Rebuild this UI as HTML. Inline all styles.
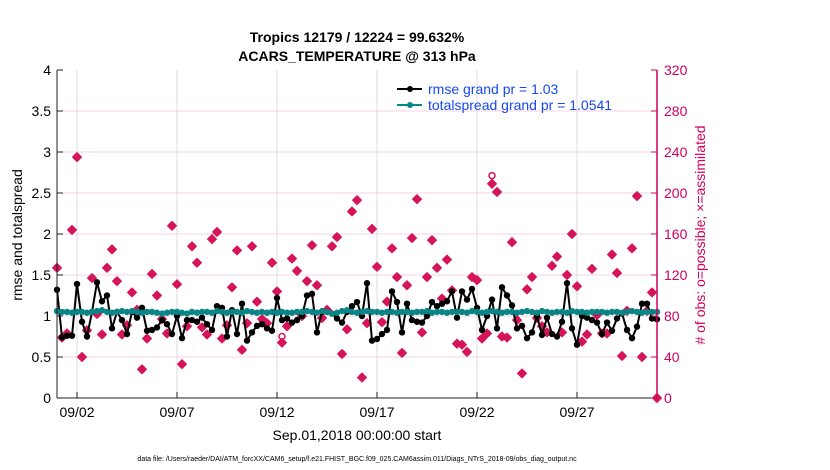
<!DOCTYPE html>
<html><head><meta charset="utf-8"><style>
body{margin:0;background:#fff;}
svg{display:block;font-family:"Liberation Sans",Arial,sans-serif;}
</style></head><body>
<svg id="chart" width="830" height="470" viewBox="0 0 830 470">
<g id="grid"></g>
<g id="marks"></g>
<g id="axes"></g>
<text x="357" y="42" text-anchor="middle" font-size="14" font-weight="bold">Tropics 12179 / 12224 = 99.632%</text>
<text x="357" y="61" text-anchor="middle" font-size="14" font-weight="bold">ACARS_TEMPERATURE @ 313 hPa</text>
<text x="22" y="235" text-anchor="middle" font-size="14" transform="rotate(-90 22 235)">rmse and totalspread</text>
<text x="705" y="235" text-anchor="middle" font-size="14" fill="#d1005a" transform="rotate(-90 705 235)"># of obs: o=possible; ×=assimilated</text>
<text x="357" y="440" text-anchor="middle" font-size="14">Sep.01,2018 00:00:00 start</text>
<text x="357" y="461" text-anchor="middle" font-size="7">data file: /Users/raeder/DAI/ATM_forcXX/CAM6_setup/f.e21.FHIST_BGC.f09_025.CAM6assim.011/Diags_NTrS_2018-09/obs_diag_output.nc</text>
<g>
<line x1="397" y1="89" x2="422" y2="89" stroke="#000" stroke-width="2"/><circle cx="410" cy="89" r="3" fill="#000"/>
<text x="428" y="94" font-size="14" fill="#1747ee">rmse grand pr = 1.03</text>
<line x1="397" y1="105" x2="422" y2="105" stroke="#0a8585" stroke-width="2"/><circle cx="410" cy="105" r="3" fill="#0a8585"/>
<text x="428" y="110" font-size="14" fill="#1747ee">totalspread grand pr = 1.0541</text>
</g>
</svg>
<script>
const rmse=[1.32,0.74,0.76,0.76,1.39,0.93,0.75,1.05,1.41,1.18,1.25,0.85,1.05,0.95,0.78,1.05,0.98,1.1,0.82,0.83,0.86,0.95,0.9,0.78,1.0,0.73,0.95,0.95,0.93,0.98,0.9,0.83,1.12,1.1,0.75,1.07,0.78,1.15,0.70,0.8,0.88,
0.9,0.85,0.82,1.22,0.95,0.97,0.92,0.95,1.0,1.25,1.27,0.8,1.05,1.05,1.03,0.97,0.92,1.05,1.12,1.17,1.0,1.4,0.7,0.72,0.78,0.83,1.3,1.17,0.8,1.15,0.95,0.93,0.92,1.0,1.17,1.12,1.15,1.18,1.3,0.98,1.3,
1.2,1.33,1.1,0.83,1.0,1.2,0.85,1.35,1.25,1.13,0.85,0.88,0.73,0.8,1.0,0.77,0.98,0.78,0.75,0.93,1.4,0.85,0.65,1.0,0.98,0.95,0.92,0.78,0.92,0.82,0.97,1.03,0.83,0.73,0.87,1.15,1.15,0.97,0.96];
const spread=[1.06,1.05,1.05,1.04,1.05,1.05,1.04,1.05,1.06,1.07,1.05,1.04,1.05,1.06,1.05,1.06,1.05,1.04,1.05,1.05,1.04,1.03,1.04,1.05,1.05,1.04,1.03,1.05,1.04,1.05,1.05,1.04,1.06,1.05,1.04,1.05,1.05,1.04,1.06,1.05,1.04,
1.05,1.04,1.05,1.04,1.05,1.04,1.04,1.05,1.05,1.06,1.05,1.04,1.06,1.05,1.03,1.04,1.06,1.07,1.05,1.04,1.05,1.06,1.05,1.05,1.04,1.05,1.05,1.04,1.05,1.05,1.04,1.05,1.05,1.06,1.04,1.05,1.05,1.04,1.05,1.05,1.05,
1.04,1.06,1.05,1.04,1.05,1.06,1.05,1.04,1.05,1.05,1.04,1.05,1.06,1.05,1.04,1.06,1.05,1.04,1.05,1.05,1.04,1.06,1.05,1.05,1.04,1.05,1.05,1.05,1.04,1.05,1.05,1.04,1.05,1.06,1.05,1.04,1.05,1.05,1.05];
const nAssim=[127,59,63,164,235,40,66,117,82,62,127,145,114,62,71,103,86,28,58,121,100,77,63,168,111,33,70,148,132,69,62,155,162,58,71,108,144,47,73,148,94,
77,73,132,104,54,70,136,124,80,114,149,110,78,86,148,157,43,67,182,193,20,73,165,128,74,94,146,118,44,110,156,194,64,118,154,127,97,135,105,53,
52,45,118,115,58,63,209,201,60,59,152,76,24,106,118,78,70,64,129,138,64,120,160,109,55,62,126,81,63,63,140,122,41,85,146,197,40,85,103,0];
const nPoss=[127,59,63,164,235,40,66,117,82,62,127,145,114,62,71,103,86,28,58,121,100,77,63,168,111,33,70,148,132,69,62,155,162,58,71,108,144,47,73,148,94,
77,73,132,104,60,70,136,124,80,114,149,110,78,86,148,157,43,67,182,193,20,73,165,128,74,94,146,118,44,110,156,194,64,118,154,127,97,135,105,53,
52,45,118,115,58,63,217,201,60,59,152,76,24,106,118,78,70,64,129,138,64,120,160,109,55,62,126,81,63,63,140,122,41,85,146,197,40,85,103,0];
const yTicks=[0,0.5,1,1.5,2,2.5,3,3.5,4];
const yTickLabels=["0","0.5","1","1.5","2","2.5","3","3.5","4"];
const y2Ticks=[0,40,80,120,160,200,240,280,320];
const xTickDays=[1,6,11,16,21,26];
const xTickLabels=["09/02","09/07","09/12","09/17","09/22","09/27"];

const NS="http://www.w3.org/2000/svg";
const L=57,R=657,T=70,B=398;
const xs=d=>L+(d/30)*(R-L);
const ys=v=>B-(v/4)*(B-T);
const ys2=v=>B-(v/320)*(B-T);
function mk(tag,attrs,parent){const e=document.createElementNS(NS,tag);for(const k in attrs)e.setAttribute(k,attrs[k]);parent.appendChild(e);return e;}
const grid=document.getElementById('grid'),marks=document.getElementById('marks'),axes=document.getElementById('axes');
y2Ticks.forEach(v=>{if(v>0&&v<320){const g=mk('line',{x1:L,x2:R,y1:ys2(v),y2:ys2(v),stroke:'#f6d3e0','stroke-width':1},grid);

}});
xTickDays.forEach(d=>{const g=mk('line',{x1:xs(d),x2:xs(d),y1:T,y2:B,stroke:'#dcdcdc','stroke-width':1},grid);

});
// obs markers
nPoss.forEach((v,i)=>{const c=mk('circle',{cx:xs(i*0.25),cy:ys2(v),r:3,fill:'none',stroke:'#d6145a','stroke-width':1.5},marks);

});
nAssim.forEach((v,i)=>{const x=xs(i*0.25),y=ys2(v);
const p=mk('path',{d:`M${x-4.5},${y}L${x},${y-4.5}L${x+4.5},${y}L${x},${y+4.5}Z`,fill:'#d6145a',stroke:'#d6145a','stroke-width':1},marks);

});
// rmse line
const rp=mk('polyline',{points:rmse.map((v,i)=>xs(i*0.25)+','+ys(v)).join(' '),fill:'none',stroke:'#000','stroke-width':2},marks);


rmse.forEach((v,i)=>{const c=mk('circle',{cx:xs(i*0.25),cy:ys(v),r:3.2,fill:'#000'},marks);

});
const sp=mk('polyline',{points:spread.map((v,i)=>xs(i*0.25)+','+ys(v)).join(' '),fill:'none',stroke:'#0a8585','stroke-width':2},marks);


spread.forEach((v,i)=>{const c=mk('circle',{cx:xs(i*0.25),cy:ys(v),r:3.2,fill:'#0a8585'},marks);

});
// axes
const la=mk('line',{x1:L,x2:L,y1:T,y2:B,stroke:'#222','stroke-width':1},axes);


const ba=mk('line',{x1:L,x2:R,y1:B,y2:B,stroke:'#222','stroke-width':1},axes);


const ra=mk('line',{x1:R,x2:R,y1:T,y2:B,stroke:'#d1005a','stroke-width':1.5},axes);


yTicks.forEach((v,i)=>{mk('line',{x1:L,x2:L+6,y1:ys(v),y2:ys(v),stroke:'#222'},axes);
const t=mk('text',{x:L-6,y:ys(v)+5,'text-anchor':'end','font-size':14},axes);t.textContent=yTickLabels[i];

});
y2Ticks.forEach(v=>{mk('line',{x1:R-6,x2:R,y1:ys2(v),y2:ys2(v),stroke:'#d1005a'},axes);
const t=mk('text',{x:R+7,y:ys2(v)+5,'font-size':14,fill:'#d1005a'},axes);t.textContent=String(v);

});
xTickDays.forEach((d,i)=>{mk('line',{x1:xs(d),x2:xs(d),y1:B,y2:B-6,stroke:'#222'},axes);
const t=mk('text',{x:xs(d),y:B+19,'text-anchor':'middle','font-size':14},axes);t.textContent=xTickLabels[i];

});
</script>
</body></html>
